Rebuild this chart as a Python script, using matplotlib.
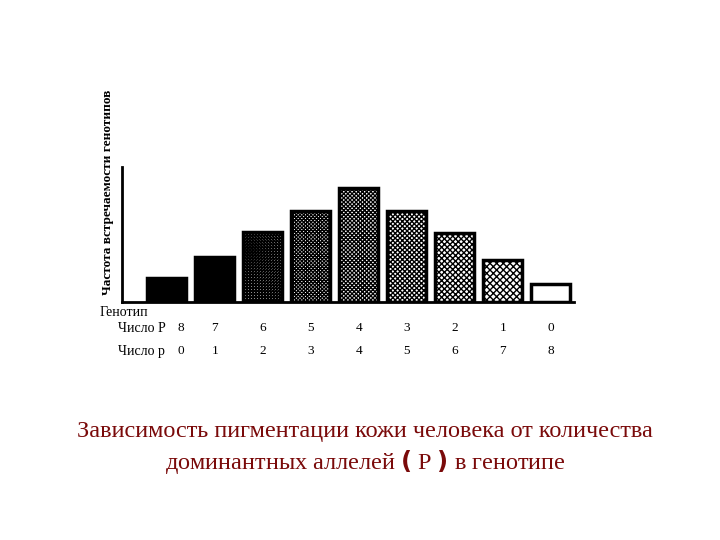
import matplotlib
matplotlib.use("Agg")
import matplotlib.pyplot as plt
from matplotlib.transforms import blended_transform_factory

plt.rcParams['font.family'] = ['Liberation Serif', 'DejaVu Serif']
plt.rcParams['hatch.linewidth'] = 1.0

# data
num_P = [8, 7, 6, 5, 4, 3, 2, 1, 0]
num_p = [0, 1, 2, 3, 4, 5, 6, 7, 8]
freq = [24, 45, 70, 91, 114, 91, 69, 42, 18]

# fill style per bar: cross-hatch density falls from left to right
faces = ['black', 'white', 'white', 'white', 'white', 'white', 'white', 'white', 'white']
hatches = [None, 'x' * 16, 'x' * 11, 'x' * 9, 'x' * 8, 'x' * 7, 'x' * 6, 'x' * 5, None]

fig = plt.figure(figsize=(7.2, 5.4), dpi=100)
ax = fig.add_axes([0.169, 0.441, 0.628, 0.25])

x = list(range(len(freq)))
for i in x:
    ax.bar(i, freq[i], width=0.81, color=faces[i], hatch=hatches[i],
           edgecolor='black', linewidth=0)
    ax.bar(i, freq[i], width=0.81, fill=False, edgecolor='black', linewidth=2.5)

ax.set_xlim(-0.94, 8.48)
ax.set_ylim(0, 135)
ax.spines['top'].set_visible(False)
ax.spines['right'].set_visible(False)
ax.spines['left'].set_linewidth(2)
ax.spines['bottom'].set_linewidth(2)
ax.set_xticks([])
ax.set_yticks([])

# axis title sits above the axes, like in the scan
fig.text(108 / 720, 1 - 192 / 540, 'Частота встречаемости генотипов', fontsize=9.5,
         fontweight='bold', rotation=90, ha='center', va='center')

tr = blended_transform_factory(ax.transData, fig.transFigure)
fig.text(100 / 720, 1 - 313 / 540, 'Генотип', fontsize=10, va='center')
fig.text(118 / 720, 1 - 328 / 540, 'Число P', fontsize=10, va='center')
fig.text(118 / 720, 1 - 351 / 540, 'Число р', fontsize=10, va='center')
for i in x:
    xi = i + 0.3 if i == 0 else i
    ax.text(xi, 1 - 328 / 540, str(num_P[i]), transform=tr, fontsize=9.5,
            ha='center', va='center')
    ax.text(xi, 1 - 351 / 540, str(num_p[i]), transform=tr, fontsize=9.5,
            ha='center', va='center')

red = '#7a0a0a'
fig.text(0.507, 1 - 432 / 540, 'Зависимость пигментации кожи человека от количества',
         fontsize=17.5, color=red, ha='center', va='center')
fig.text(0.507, 1 - 462 / 540, 'доминантных аллелей $\\mathbf{(}$ Р $\\mathbf{)}$ в генотипе',
         fontsize=17.5, color=red, ha='center', va='center')

fig.savefig('out.png', dpi=100)
